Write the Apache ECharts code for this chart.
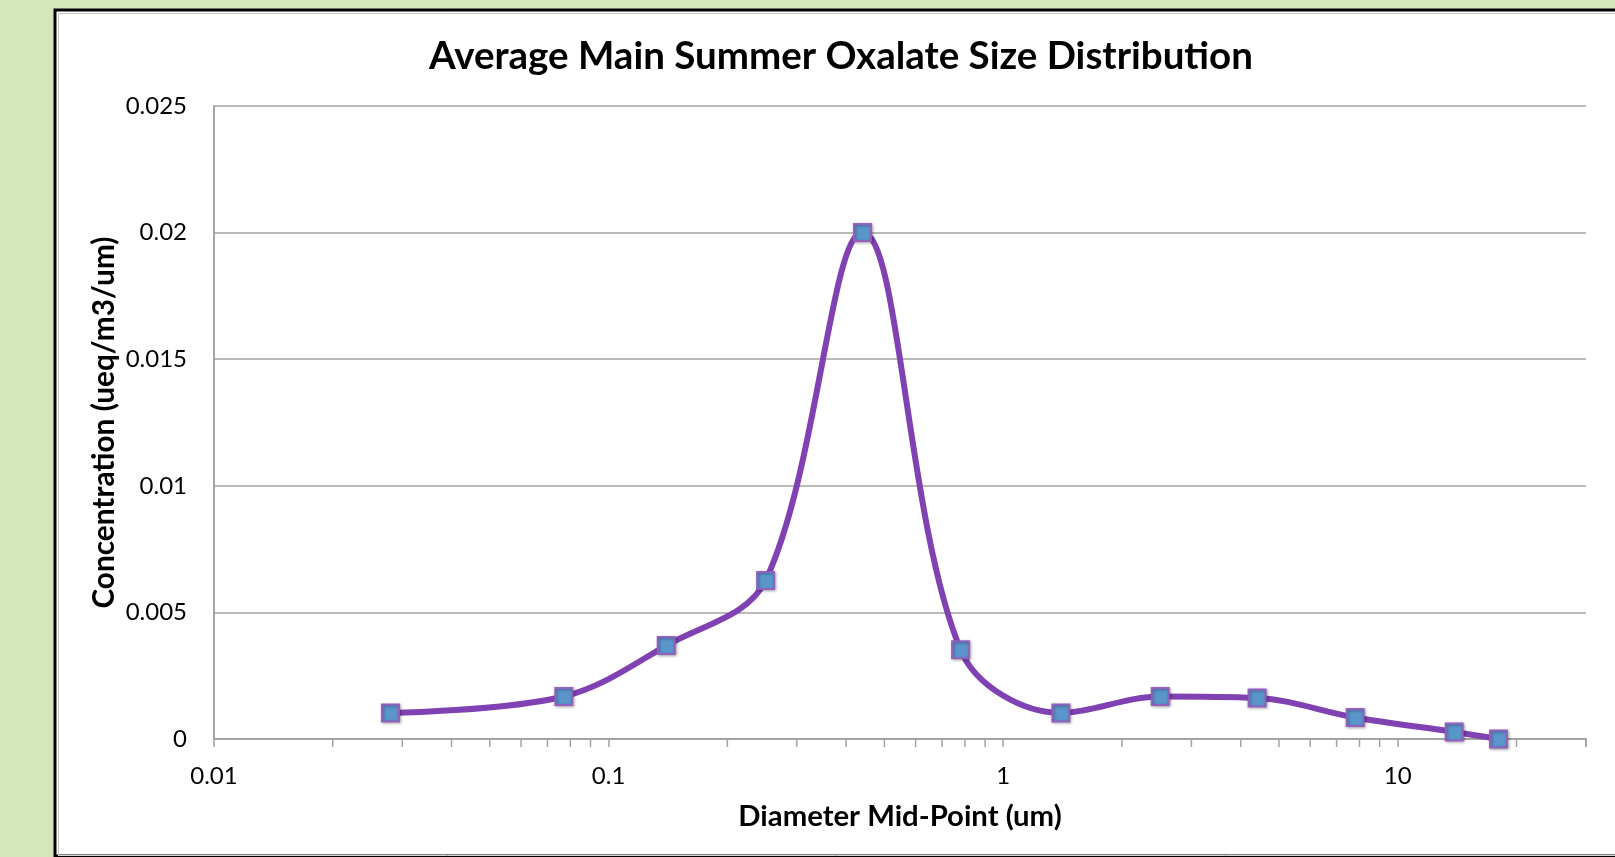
<!DOCTYPE html>
<html>
<head>
<meta charset="utf-8">
<script src="https://cdn.jsdelivr.net/npm/echarts@6/dist/echarts.min.js"></script>
<style>
html, body { margin: 0; padding: 0; background: #d5e6bd; }
#chart { width: 1615px; height: 857px; }
</style>
</head>
<body>
<div id="chart"></div>
<script>
// ---- data ----
const diameters = [0.028, 0.077, 0.14, 0.25, 0.44, 0.78, 1.4, 2.5, 4.4, 7.8, 13.9, 18];
const concentrations = [0.00103, 0.00168, 0.00369, 0.00626, 0.0200, 0.00352, 0.00103, 0.00168, 0.00162, 0.00085, 0.00028, 0.0];
const xTickValues = [0.01, 0.1, 1, 10];
const xTickLabels = ['0.01', '0.1', '1', '10'];
const xMinorTicks = [0.02, 0.03, 0.04, 0.05, 0.06, 0.07, 0.08, 0.09,
                     0.2, 0.3, 0.4, 0.5, 0.6, 0.7, 0.8, 0.9,
                     2, 3, 4, 5, 6, 7, 8, 9, 20, 30];
const titleText = 'Average Main Summer Oxalate Size Distribution';
const xAxisTitle = 'Diameter Mid-Point (um)';
const yAxisTitle = 'Concentration (ueq/m3/um)';

const FONT = 'Lato, "Noto Sans", sans-serif';
const GRAY = '#a3a3a3';

const chart = echarts.init(document.getElementById('chart'), null, { renderer: 'canvas' });

const option = {
  backgroundColor: 'transparent',
  animation: false,
  graphic: [
    { type: 'rect', z: -10, shape: { x: 55, y: 10, width: 1600, height: 846 },
      style: { fill: '#ffffff', stroke: '#000000', lineWidth: 3 } },
    { type: 'polyline', z: -9, shape: { points: [[58.5, 856], [58.5, 13.5], [1615, 13.5]] },
      style: { stroke: '#c8c8c8', lineWidth: 1, fill: null } },
    { type: 'line', z: -9, shape: { x1: 58, y1: 855.5, x2: 1615, y2: 855.5 },
      style: { stroke: '#d8d8d8', lineWidth: 1 } }
  ],
  title: {
    text: titleText,
    left: 836,
    top: 32,
    textAlign: 'center',
    textStyle: { fontFamily: FONT, fontWeight: 'bold', fontSize: 38.5, color: '#000' }
  },
  grid: { left: 214, top: 106, right: 29, bottom: 118, containLabel: false },
  xAxis: {
    type: 'log',
    logBase: 10,
    min: 0.01,
    max: 30,
    name: xAxisTitle,
    nameLocation: 'middle',
    nameGap: 63,
    nameTextStyle: { fontFamily: FONT, fontWeight: 'bold', fontSize: 29.3, color: '#000' },
    axisLine: { show: true, lineStyle: { color: GRAY, width: 2 } },
    axisTick: { show: true, inside: false, length: 8, lineStyle: { color: GRAY, width: 1.5 } },
    axisLabel: {
      fontFamily: FONT, fontSize: 24, color: '#000', margin: 25,
      formatter: function (v) {
        const k = Math.round(Math.log10(v));
        if (Math.abs(Math.log10(v) - k) > 1e-6) return '';
        const i = xTickValues.findIndex(t => Math.abs(Math.log10(t) - k) < 1e-6);
        return i >= 0 ? xTickLabels[i] : '';
      }
    },
    splitLine: { show: false },
    minorTick: { show: false },
    minorSplitLine: { show: false }
  },
  yAxis: {
    type: 'value',
    min: 0,
    max: 0.025,
    interval: 0.005,
    name: yAxisTitle,
    nameLocation: 'middle',
    nameGap: 95,
    nameMoveOverlap: false,
    nameRotate: 90,
    nameTextStyle: { fontFamily: FONT, fontWeight: 'bold', fontSize: 29.8, color: '#000' },
    axisLine: { show: true, lineStyle: { color: GRAY, width: 2 } },
    axisTick: { show: false },
    axisLabel: { fontFamily: FONT, fontSize: 24, color: '#000', margin: 27 },
    splitLine: { show: true, lineStyle: { color: GRAY, width: 1.5 } }
  },
  series: [
    {
      type: 'custom',
      silent: true,
      clip: false,
      z: 1,
      data: xMinorTicks.map(v => [v, 0]),
      renderItem: function (params, api) {
        const p = api.coord([api.value(0), 0]);
        return {
          type: 'line',
          shape: { x1: p[0], y1: p[1], x2: p[0], y2: p[1] + 8 },
          style: { stroke: GRAY, lineWidth: 1.5 }
        };
      }
    },
    {
      type: 'line',
      z: 3,
      data: diameters.map((d, i) => [d, concentrations[i]]),
      smooth: 0.35,
      showSymbol: true,
      symbol: 'rect',
      symbolSize: 17,
      clip: false,
      lineStyle: { color: '#8041b3', width: 6 },
      itemStyle: {
        color: '#5a96cc',
        borderColor: '#9360c0',
        borderWidth: 2,
        shadowBlur: 3,
        shadowColor: 'rgba(0,0,0,0.35)',
        shadowOffsetX: 1,
        shadowOffsetY: 1
      }
    }
  ]
};

chart.setOption(option);
</script>
</body>
</html>
